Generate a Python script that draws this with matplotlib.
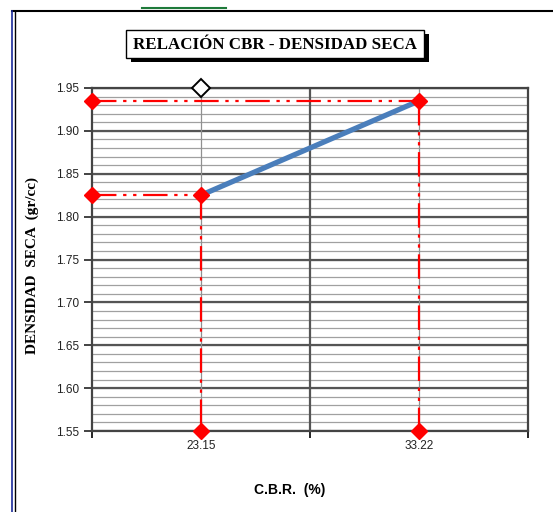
import matplotlib
matplotlib.use("Agg")
import matplotlib.pyplot as plt
from matplotlib.patches import Rectangle
from matplotlib.lines import Line2D
import numpy as np

cbr_labels = ["23.15", "33.22"]
cbr_pos = [1, 2]
densidad = [1.825, 1.935]
max_point_density = 1.95

W, H = 553, 512
fig = plt.figure(figsize=(W/100, H/100), dpi=100)
fig.patch.set_facecolor("white")

def px(x, y):
    return x / W, 1 - y / H

# outer frame (top + left)
fig.add_artist(Line2D([12/W, 1], [1-11/H, 1-11/H], color="black", lw=1.5))
fig.add_artist(Line2D([12/W, 12/W], [0, 1-11/H], color="#1a2a9a", lw=1.2))
fig.add_artist(Line2D([15/W, 15/W], [0, 1-11/H], color="black", lw=1.0))
# green cell marker at top
fig.add_artist(Line2D([142/W, 226/W], [1-8/H, 1-8/H], color="#1e7a3a", lw=1.5))

ax = fig.add_axes([92/W, 1-431/H, (528-92)/W, (431-88)/H])
ax.set_xlim(0.5, 2.5)
ax.set_ylim(1.55, 1.95)

# grid
ax.set_yticks(np.arange(1.55, 1.951, 0.05))
ax.set_yticks(np.arange(1.55, 1.951, 0.01), minor=True)
ax.set_yticklabels([f"{v:.2f}" for v in np.arange(1.55, 1.951, 0.05)])
ax.set_xticks([0.5, 1.5, 2.5])
ax.set_xticklabels([])
for yv in np.arange(1.55, 1.951, 0.01):
    ax.axhline(yv, color="#a0a0a0", lw=0.9, zorder=1)
for yv in np.arange(1.55, 1.951, 0.05):
    ax.axhline(yv, color="#555555", lw=1.6, zorder=1)
ax.axvline(1.5, color="#555555", lw=1.6, zorder=1)
for xv in cbr_pos:
    ax.axvline(xv, color="#909090", lw=0.9, zorder=1)

for xv, lab in zip(cbr_pos, cbr_labels):
    ax.text(xv, -0.027, lab, transform=ax.get_xaxis_transform(), ha="center", va="top",
            fontsize=8.5, family="Liberation Sans", color="#222222")

ax.tick_params(axis="y", which="major", direction="out", length=6, width=1.2, labelsize=8.5,
               colors="#222222", pad=3)
ax.tick_params(axis="y", which="minor", length=0)
ax.tick_params(axis="x", which="major", direction="out", length=5, width=1.2)
for lab in ax.get_yticklabels():
    lab.set_family("Liberation Sans")
for s in ax.spines.values():
    s.set_color("#444444")
    s.set_linewidth(1.6)

red = "#ff0000"
dash = (0, (11, 3, 1.5, 3, 1.5, 3))
for xv, yv in zip(cbr_pos, densidad):
    ax.plot([0.5, xv], [yv, yv], color=red, lw=1.6, linestyle=dash, zorder=3, clip_on=False)
    ax.plot([xv, xv], [yv, 1.55], color=red, lw=1.6, linestyle=dash, zorder=3, clip_on=False)
    ax.plot([0.5, xv, xv], [yv, yv, 1.55], linestyle="none", marker="D", color=red,
            markersize=8.5, zorder=5, clip_on=False)

ax.plot(cbr_pos, densidad, color="#4a7ebb", lw=3.8, zorder=4, solid_capstyle="butt")
ax.plot([cbr_pos[0]], [max_point_density], marker="D", markersize=9, markerfacecolor="white",
        markeredgecolor="black", markeredgewidth=1.4, linestyle="none", zorder=6, clip_on=False)

# title with shadow box
x0, y0, x1, y1 = 126, 30, 424, 58
fig.add_artist(Rectangle(px(x0+5, y1+4), (x1-x0)/W, (y1-y0)/H, transform=fig.transFigure,
                         facecolor="black", edgecolor="black", lw=0))
fig.add_artist(Rectangle(px(x0, y1), (x1-x0)/W, (y1-y0)/H, transform=fig.transFigure,
                         facecolor="white", edgecolor="black", lw=1.0))
fig.text(*px((x0+x1)/2, (y0+y1)/2 + 1), "RELACIÓN CBR - DENSIDAD SECA", ha="center", va="center",
         fontsize=12.2, fontweight="bold", family="Liberation Serif")

fig.text(*px(32, 266), "DENSIDAD  SECA  (gr/cc)", rotation=90, ha="center", va="center",
         fontsize=11, fontweight="bold", family="Liberation Serif")
fig.text(*px(290, 490), "C.B.R.  (%)", ha="center", va="center",
         fontsize=10, fontweight="bold", family="Liberation Sans")

fig.savefig("out.png", dpi=100)
